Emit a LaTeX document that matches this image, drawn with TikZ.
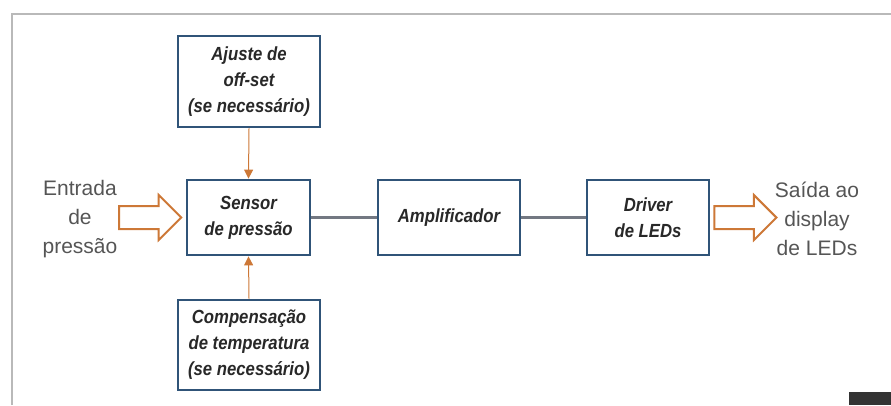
\documentclass[tikz,border=0pt]{standalone}
\usepackage{fontspec}
\setmainfont{Liberation Sans}
\newfontfamily\narrowsans{Liberation Sans}[FakeStretch=0.88]
\usepackage{tikz}
\usetikzlibrary{arrows.meta,positioning,shapes.arrows}

\definecolor{boxblue}{RGB}{48,84,120}
\definecolor{boxtext}{RGB}{40,40,40}
\definecolor{sidegray}{RGB}{85,85,85}
\definecolor{flowrange}{RGB}{205,120,55}
\definecolor{linkgray}{RGB}{115,120,130}

\begin{document}
\begin{tikzpicture}[x=1pt, y=-1pt,
  blockbox/.style={draw=boxblue, line width=2.8pt, fill=white, inner sep=0pt,
    align=center, text=boxtext,
    font=\narrowsans\fontsize{19}{26}\selectfont\bfseries\itshape},
  sidetext/.style={align=center, text=sidegray, font=\fontsize{21}{29}\selectfont},
  bigarrow/.style={single arrow, draw=flowrange, line width=2pt, fill=white,
    minimum height=62pt, inner ysep=10.5pt, inner xsep=0pt,
    single arrow head extend=11pt},
  tweak/.style={draw=flowrange, line width=1pt, -{Triangle[width=9pt,length=9pt]}},
  link/.style={draw=linkgray, line width=2.2pt}]

\useasboundingbox (0,0) rectangle (891,405);

% ---- frame -----------------------------------------------------------------
\draw[gray!55, line width=1.2pt] (12,405) -- (12,14) -- (891,14);
\fill[black!80] (849,392) rectangle (891,405);

% ---- blocks ----------------------------------------------------------------
\node[blockbox, minimum width=142pt, minimum height=91pt] (ajuste) at (249,81.5)
  {Ajuste de\\off-set\\(se necessário)};
\node[blockbox, minimum width=123pt, minimum height=75pt] (sensor) at (248.5,217.5)
  {Sensor\\de pressão};
\node[blockbox, minimum width=142pt, minimum height=75pt] (amp) at (449,217.5)
  {Amplificador};
\node[blockbox, minimum width=122pt, minimum height=75pt] (driver) at (648,217.5)
  {Driver\\de LEDs};
\node[blockbox, minimum width=142pt, minimum height=90pt] (comp) at (249,345)
  {Compensação\\de temperatura\\(se necessário)};

% ---- input / output --------------------------------------------------------
\node[bigarrow, anchor=tip] (inarrow) at ([xshift=-3pt]sensor.west) {};
\node[bigarrow, anchor=tail] (outarrow) at ([xshift=3pt]driver.east) {};

\node[sidetext] (entrada) at (80,219) {Entrada\\de\\pressão};
\node[sidetext] (saida) at (817,219) {Saída ao\\display\\de LEDs};

% ---- connectors ------------------------------------------------------------
\draw[tweak] (ajuste.south) -- (sensor.north);
\draw[tweak] (comp.north) -- (sensor.south);
\draw[link] (sensor) -- (amp);
\draw[link] (amp) -- (driver);

\end{tikzpicture}
\end{document}
